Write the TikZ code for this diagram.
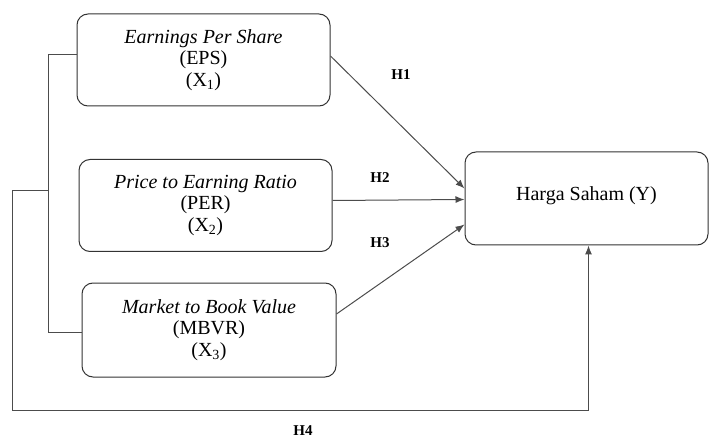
\documentclass[tikz,border=0pt]{standalone}
\usepackage{fontspec}
\setmainfont{Liberation Serif}
\newfontfamily\timesfont{Liberation Serif}
\usetikzlibrary{positioning,arrows.meta}

\begin{document}
\begin{tikzpicture}
        [
            x = 1pt, y = -1pt,
            var/.style = {draw = black!80, line width = 1pt, rounded corners = 11pt,
                minimum width = 253pt, minimum height = 92pt, align = center,
                font = \timesfont\fontsize{20}{21.5}\selectfont},
            hyp/.style = {font = \timesfont\bfseries\fontsize{15}{16}\selectfont},
            link/.style = {draw = black!70, line width = 1pt},
            >={Latex[length=9pt, width=7pt]}
        ]

        \useasboundingbox (0,0) rectangle (709,438);

        % variabel independen
        \node[var] (eps) at (203.5,60)
            {\textit{Earnings Per Share}\\(EPS)\\(X\textsubscript{1})};
        \node[var] (per) at (205.5,205.5)
            {\textit{Price to Earning Ratio}\\(PER)\\(X\textsubscript{2})};
        \node[var, minimum width = 254pt, minimum height = 94pt] (mbv) at (209,330)
            {\textit{Market to Book Value}\\(MBVR)\\(X\textsubscript{3})};

        % variabel dependen
        \node[var, minimum width = 243pt, minimum height = 93pt,
              text depth = 10pt] (harga) at (586.5,198.5)
            {Harga Saham (Y)};

        % hipotesis
        \node[hyp] (h1) at (401,75) {H1};
        \node[hyp] (h2) at (380,178) {H2};
        \node[hyp] (h3) at (380,243) {H3};
        \node[hyp] (h4) at (303,431) {H4};

        % parsial
        \draw[link, ->] ([yshift=4pt]eps.east) -- ([yshift=10pt]harga.west);
        \draw[link, ->] ([yshift=5pt]per.east) -- ([yshift=-1pt]harga.west);
        \draw[link, ->] ([yshift=16pt]mbv.east) -- ([yshift=-26pt]harga.west);

        % simultan
        \draw[link] ([yshift=5pt]eps.west) -- ++(-28,0) coordinate (brk)
            |- ([yshift=-2pt]mbv.west);
        \coordinate (split) at (brk |- harga.west);
        \draw[link, ->] ([yshift=8pt]split) -| ++(-36,220) -| ([xshift=2pt]harga.south);
\end{tikzpicture}
\end{document}
